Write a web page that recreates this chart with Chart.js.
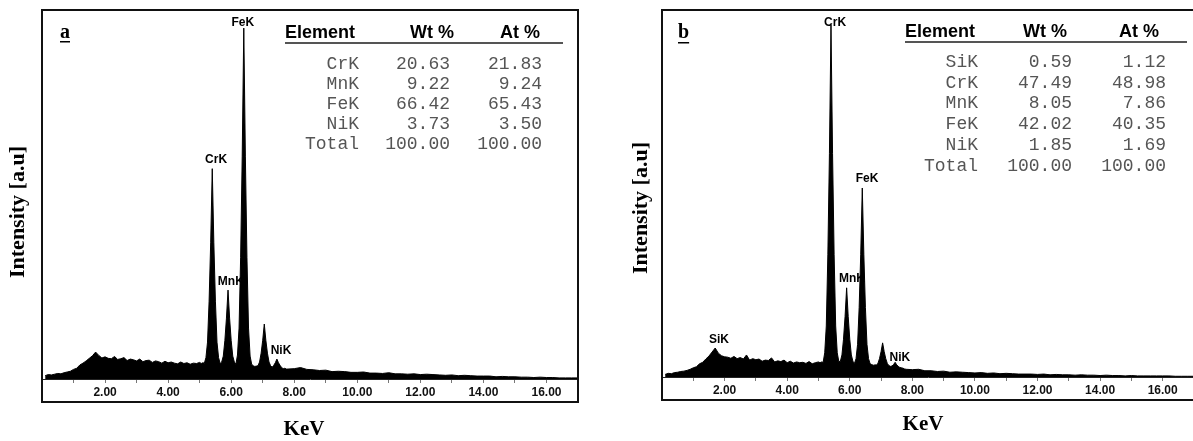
<!DOCTYPE html>
<html>
<head>
<meta charset="utf-8">
<script src="https://cdn.jsdelivr.net/npm/chart.js@4.4.1/dist/chart.umd.min.js"></script>
<style>
    html, body { margin: 0; padding: 0; background: #fff; overflow: hidden; }
    canvas { position: absolute; top: 0; }
    #chartA { left: 0; }
    #chartB { left: 596px; }
</style>
</head>
<body>
<canvas id="chartA" width="596" height="441"></canvas>
<canvas id="chartB" width="620" height="441"></canvas>
<script>
// energy channels (keV), denser through the K lines
const kev = [
    0.1, 0.2, 0.3, 0.4, 0.5, 0.6, 0.7, 0.8, 0.9, 1.0,
    1.1, 1.2, 1.3, 1.4, 1.5, 1.6, 1.7, 1.8, 1.9, 2.0,
    2.1, 2.2, 2.3, 2.4, 2.5, 2.6, 2.7, 2.8, 2.9, 3.0,
    3.1, 3.2, 3.3, 3.4, 3.5, 3.6, 3.7, 3.8, 3.9, 4.0,
    4.1, 4.2, 4.3, 4.4, 4.5, 4.6, 4.7, 4.8, 4.9, 5.0,
    5.05, 5.10, 5.15, 5.20, 5.25, 5.30, 5.35, 5.40, 5.45, 5.50,
    5.55, 5.60, 5.65, 5.70, 5.75, 5.80, 5.85, 5.90, 5.95, 6.00,
    6.05, 6.10, 6.15, 6.20, 6.25, 6.30, 6.35, 6.40, 6.45, 6.50,
    6.55, 6.60, 6.65, 6.70, 6.75, 6.80, 6.85, 6.90, 6.95, 7.00,
    7.05, 7.10, 7.15, 7.20, 7.25, 7.30, 7.35, 7.40, 7.45, 7.50,
    7.55, 7.60, 7.65, 7.70, 7.75, 7.80,
    8.0, 8.2, 8.4, 8.6, 8.8, 9.0, 9.2, 9.4, 9.6, 9.8,
    10.0, 10.2, 10.4, 10.6, 10.8, 11.0, 11.2, 11.4, 11.6, 11.8,
    12.0, 12.2, 12.4, 12.6, 12.8, 13.0, 13.2, 13.4, 13.6, 13.8,
    14.0, 14.2, 14.4, 14.6, 14.8, 15.0, 15.2, 15.4, 15.6, 15.8,
    16.0, 16.2, 16.4, 16.6, 16.8, 17.0
];

// intensity (a.u., 0-1000) for spectrum a
const countsA = [
    9, 12, 11, 13, 15, 14, 17, 19, 21, 26,
    29, 38, 43, 49, 56, 63, 73, 64, 57, 60,
    56, 55, 61, 53, 55, 58, 50, 54, 52, 49,
    54, 47, 50, 51, 45, 49, 47, 43, 48, 44,
    46, 43, 41, 46, 42, 44, 40, 43, 42, 45,
    42, 44, 43, 58, 100, 211, 369, 570, 369, 211,
    100, 58, 42, 46, 62, 104, 165, 241, 165, 104,
    62, 46, 40, 65, 138, 330, 604, 951, 604, 330,
    138, 62, 40, 36, 34, 35, 36, 46, 70, 105,
    149, 105, 70, 46, 36, 32, 37, 44, 54, 44,
    37, 31, 28, 29, 27, 27,
    28, 31, 26, 25, 23, 24, 20, 21, 20, 18,
    18, 19, 16, 16, 15, 17, 14, 14, 13, 14,
    12, 13, 12, 11, 10, 11, 9, 10, 9, 8,
    8, 8, 6, 7, 6, 6, 5, 5, 4, 5,
    4, 4, 3, 3, 3, 3
];

// intensity (a.u., 0-1000) for spectrum b
const countsB = [
    7, 10, 9, 12, 13, 15, 16, 18, 21, 25,
    28, 36, 40, 49, 57, 68, 79, 65, 58, 55,
    54, 51, 56, 50, 53, 49, 60, 46, 50, 47,
    49, 43, 46, 45, 52, 41, 44, 42, 46, 39,
    43, 38, 41, 39, 40, 37, 42, 36, 39, 41,
    39, 41, 40, 66, 139, 333, 609, 959, 609, 333,
    139, 66, 42, 43, 60, 103, 165, 243, 165, 103,
    60, 43, 37, 50, 89, 189, 333, 515, 333, 189,
    89, 50, 36, 34, 32, 33, 33, 37, 50, 69,
    93, 69, 50, 37, 31, 29, 30, 34, 40, 33,
    29, 26, 25, 24, 22, 21,
    20, 21, 17, 17, 15, 16, 13, 14, 13, 12,
    11, 12, 10, 11, 9, 10, 9, 8, 8, 8,
    7, 8, 6, 7, 6, 6, 5, 6, 5, 5,
    4, 5, 4, 4, 3, 4, 3, 3, 3, 3,
    3, 3, 2, 2, 2, 2
];

// peak names and where they sit (keV, intensity)
const peakNamesA = ["FeK", "CrK", "MnK", "NiK"];
const peakKevA = [6.37, 5.52, 5.99, 7.58];
const peakLevelA = [965, 593, 263, 76];

const peakNamesB = ["CrK", "FeK", "MnK", "NiK", "SiK"];
const peakKevB = [5.53, 6.55, 6.07, 7.60, 1.82];
const peakLevelB = [965, 540, 267, 52, 101];

// quantification tables
const elementsA = ["CrK", "MnK", "FeK", "NiK", "Total"];
const wtA = [20.63, 9.22, 66.42, 3.73, 100.00];
const atA = [21.83, 9.24, 65.43, 3.50, 100.00];

const elementsB = ["SiK", "CrK", "MnK", "FeK", "NiK", "Total"];
const wtB = [0.59, 47.49, 8.05, 42.02, 1.85, 100.00];
const atB = [1.12, 48.98, 7.86, 40.35, 1.69, 100.00];

const SANS = '"Liberation Sans", Arial, sans-serif';
const SERIF = '"Liberation Serif", "Times New Roman", serif';
const MONO = '"Liberation Mono", "Courier New", monospace';

const edsDecor = {
    id: "edsDecor",
    beforeDatasetsDraw(chart, args, o) {
        // labels go under the fill so the FeK peak clips the MnK label like the original
        const ctx = chart.ctx, xs = chart.scales.x, ys = chart.scales.y;
        ctx.save();
        ctx.font = "bold 12px " + SANS;
        ctx.fillStyle = "#000";
        ctx.textAlign = "center";
        ctx.textBaseline = "middle";
        o.peakNames.forEach((n, i) => {
            ctx.fillText(n, xs.getPixelForValue(o.peakKev[i]), ys.getPixelForValue(o.peakLevel[i]));
        });
        ctx.restore();
    },
    afterDraw(chart, args, o) {
        const ctx = chart.ctx, a = chart.chartArea;
        ctx.save();

        // frame round plot + tick labels (b runs off the right edge)
        ctx.strokeStyle = "#111";
        ctx.lineWidth = 2;
        ctx.strokeRect(a.left, a.top, a.right - a.left + o.frameExtra, a.bottom + o.frameDrop - a.top);

        // panel letter, underlined
        ctx.fillStyle = "#000";
        ctx.font = "bold 20px " + SERIF;
        ctx.textAlign = "left";
        ctx.textBaseline = "alphabetic";
        ctx.fillText(o.letter, o.letterX, 38);
        const lw = ctx.measureText(o.letter).width;
        ctx.fillRect(o.letterX, o.letterLineY, lw, 1.5);

        // table header
        const t = o.table;
        ctx.font = "bold 18px " + SANS;
        ctx.textBaseline = "middle";
        ctx.textAlign = "left";
        ctx.fillText("Element", t.left, t.headY);
        ctx.textAlign = "center";
        ctx.fillText("Wt %", t.wtCenter, t.headY);
        ctx.fillText("At %", t.atCenter, t.headY);
        ctx.fillStyle = "#555";
        ctx.fillRect(t.left, t.lineY, t.lineEnd - t.left, 2);

        // table rows
        ctx.fillStyle = "#555";
        ctx.font = "18px " + MONO;
        ctx.textAlign = "right";
        o.elements.forEach((el, i) => {
            const y = t.rowY + i * t.rowStep;
            ctx.fillText(el, t.elRight, y);
            ctx.fillText(o.wt[i].toFixed(2), t.wtRight, y);
            ctx.fillText(o.at[i].toFixed(2), t.atRight, y);
        });

        // axis titles
        ctx.fillStyle = "#000";
        ctx.font = "bold 21px " + SERIF;
        ctx.textAlign = "center";
        ctx.fillText("KeV", o.xTitleX, o.xTitleY);
        ctx.font = "bold 22px " + SERIF;
        ctx.translate(o.yTitleX, o.yTitleY);
        ctx.rotate(-Math.PI / 2);
        ctx.fillText("Intensity [a.u]", 0, 0);

        ctx.restore();
    }
};

function makeSpectrum(canvasId, counts, pad, axisHeight, decor) {
    const points = kev.map((e, i) => ({ x: e, y: counts[i] }));
    return new Chart(document.getElementById(canvasId), {
        type: "line",
        data: {
            datasets: [{
                data: points,
                borderColor: "#000",
                backgroundColor: "#000",
                borderWidth: 1,
                fill: "origin",
                pointRadius: 0,
                tension: 0
            }]
        },
        options: {
            responsive: false,
            animation: false,
            layout: { padding: pad },
            plugins: {
                legend: { display: false },
                tooltip: { enabled: false },
                edsDecor: decor
            },
            scales: {
                x: {
                    type: "linear",
                    min: 0,
                    max: 17,
                    afterFit(scale) { scale.height = axisHeight; },
                    ticks: {
                        stepSize: 1,
                        autoSkip: false,
                        maxRotation: 0,
                        padding: 2,
                        color: "#111",
                        font: { family: SANS, size: 12, weight: "bold" },
                        callback: v => (v > 0 && v % 2 === 0) ? v.toFixed(2) : ""
                    },
                    grid: { drawOnChartArea: false, drawTicks: true, tickLength: 4, color: "#777" },
                    border: { display: true, color: "#222", width: 1 }
                },
                y: { display: false, min: 0, max: 1000 }
            }
        },
        plugins: [edsDecor]
    });
}

makeSpectrum("chartA", countsA, { left: 42, right: 18, top: 10, bottom: 0 }, 62, {
    peakNames: peakNamesA, peakKev: peakKevA, peakLevel: peakLevelA,
    elements: elementsA, wt: wtA, at: atA,
    letter: "a", letterX: 60, letterLineY: 41,
    frameDrop: 23, frameExtra: 0,
    table: { left: 285, wtCenter: 432, atCenter: 520, headY: 33, lineY: 42, lineEnd: 563,
             elRight: 359, wtRight: 450, atRight: 542, rowY: 64, rowStep: 20 },
    xTitleX: 304, xTitleY: 430, yTitleX: 18, yTitleY: 212
});

makeSpectrum("chartB", countsB, { left: 66, right: 22, top: 10, bottom: 0 }, 64, {
    peakNames: peakNamesB, peakKev: peakKevB, peakLevel: peakLevelB,
    elements: elementsB, wt: wtB, at: atB,
    letter: "b", letterX: 82, letterLineY: 42,
    frameDrop: 23, frameExtra: 20,
    table: { left: 309, wtCenter: 449, atCenter: 543, headY: 32, lineY: 41, lineEnd: 591,
             elRight: 382, wtRight: 476, atRight: 570, rowY: 62, rowStep: 20.8 },
    xTitleX: 327, xTitleY: 425, yTitleX: 45, yTitleY: 208
});
</script>
</body>
</html>
